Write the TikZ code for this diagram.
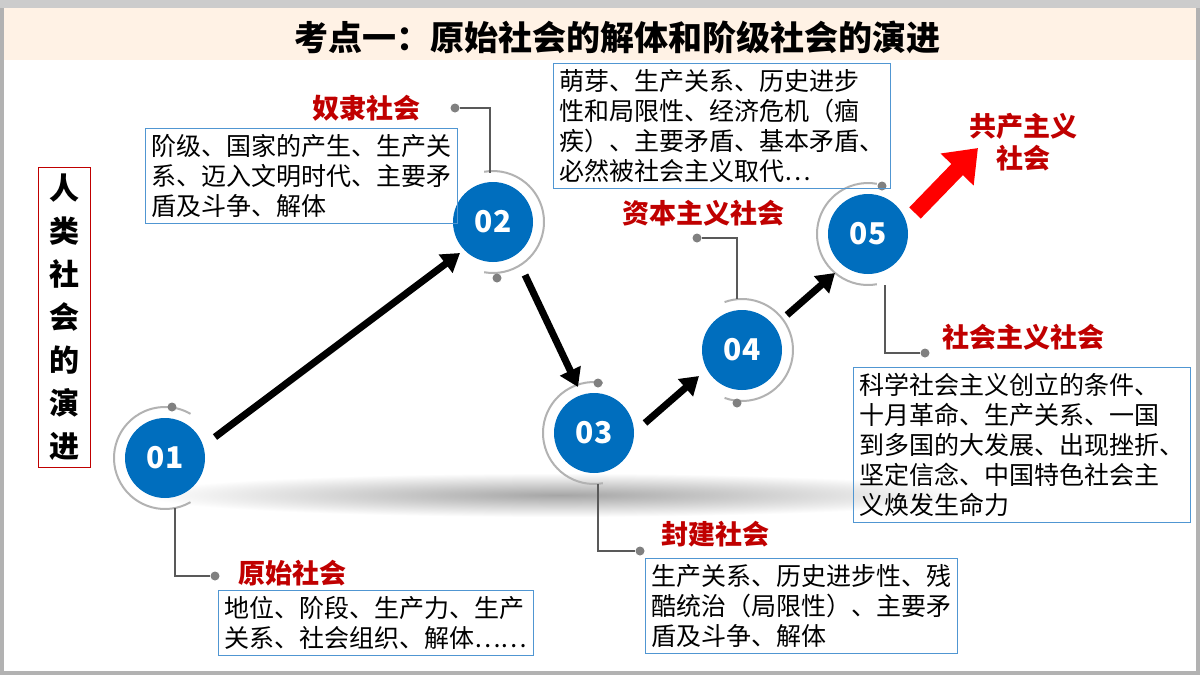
\documentclass[tikz,border=0pt]{standalone}
\usepackage{fontspec}
\setmainfont{Noto Sans CJK SC}
\usetikzlibrary{arrows.meta}
\definecolor{cblue}{RGB}{0,110,190}
\definecolor{cred}{RGB}{192,0,0}
\definecolor{bbord}{RGB}{80,150,210}
\tikzset{
 circ/.style={circle,fill=cblue,minimum size=80pt,text=white,font=\fontsize{30}{30}\selectfont\bfseries},
 ttl/.style={text=cred,font=\fontsize{27}{30}\selectfont\bfseries},
 tbox/.style={draw=bbord,line width=1pt,align=left,inner sep=6pt,font=\fontsize{25}{30}\selectfont,anchor=north west},
 lead/.style={draw=gray!70!black,line width=1.2pt},
 dotc/.style={circle,fill=gray,inner sep=0pt,minimum size=9pt},
 ring/.style={draw=gray!60,line width=2pt},
 arr/.style={line width=7pt,-{Triangle[length=18pt,width=22pt]}}
}
\begin{document}
\begin{tikzpicture}[x=1pt,y=-1pt]
\useasboundingbox (0,0) rectangle (1200,675);
\fill[white] (0,0) rectangle (1200,675);
\draw[gray!60,line width=4pt] (2,2) rectangle (1198,673);
\fill[gray!40] (0,0) rectangle (1200,8);
\fill[orange!10] (4,8) rectangle (1196,60);
\node (title) at (617,37) {\fontsize{34}{34}\selectfont\bfseries 考点一：原始社会的解体和阶级社会的演进};
% shadow band
\shade[inner color=gray!70,outer color=white] (560,495) ellipse (420 and 22);
% left vertical
\node[draw=cred,line width=1pt,minimum width=52pt,minimum height=300pt,align=center,font=\fontsize{30}{43}\selectfont\bfseries] (side) at (64,317) {人\\类\\社\\会\\的\\演\\进};
% circles
\node[circ] (c1) at (165,458) {01};
\node[circ] (c2) at (493,222) {02};
\node[circ] (c3) at (594,433) {03};
\node[circ] (c4) at (742,350) {04};
\node[circ] (c5) at (868,234) {05};
% rings
\draw[ring] (c1) ++(60:51) arc (60:300:51);
\draw[ring] (c2) ++(100:51) arc (100:-100:51);
\draw[ring] (c3) ++(80:51) arc (80:280:51);
\draw[ring] (c4) ++(110:51) arc (110:-110:51);
\draw[ring] (c5) ++(80:51) arc (80:280:51);
% arrows
\coordinate (a1s) at (215,437); \coordinate (a1e) at (460,253);
\draw[arr] (a1s) -- (a1e);
\coordinate (a2s) at (525,275); \coordinate (a2e) at (578,387);
\draw[arr] (a2s) -- (a2e);
\coordinate (a3s) at (645,423); \coordinate (a3e) at (699,376);
\draw[arr] (a3s) -- (a3e);
\coordinate (a4s) at (787,315); \coordinate (a4e) at (835,273);
\draw[arr] (a4s) -- (a4e);
\coordinate (r1) at (915,213); \coordinate (r2) at (978,148);
\draw[red,line width=16pt,-{Triangle[length=30pt,width=44pt]}] (r1) -- (r2);
% dots
\node[dotc] (d1) at (172,407) {};
\node[dotc] (d2) at (497,278) {};
\node[dotc] (d3) at (598,383) {};
\node[dotc] (d4) at (737,403) {};
\node[dotc] (d5) at (882,186) {};
% 原始社会
\node[ttl] (t1) at (292,573) {原始社会};
\node[dotc] (p1) at (215,576) {};
\draw[lead] (175,508) |- (p1);
\node[tbox] (b1) at (218,590) {地位、阶段、生产力、生产\\关系、社会组织、解体……};
% 奴隶社会
\node[ttl] (t2) at (366,108) {奴隶社会};
\node[dotc] (p2) at (455,108) {};
\draw[lead] (p2) -| (490,173);
\node[tbox] (b2) at (145,128) {阶级、国家的产生、生产关\\系、迈入文明时代、主要矛\\盾及斗争、解体};
% 封建社会
\node[ttl] (t3) at (715,534) {封建社会};
\node[dotc] (p3) at (640,551) {};
\draw[lead] (598,484) |- (p3);
\node[tbox] (b3) at (645,558) {生产关系、历史进步性、残\\酷统治（局限性）、主要矛\\盾及斗争、解体};
% 资本主义社会
\node[ttl] (t4) at (703,213) {资本主义社会};
\node[dotc] (p4) at (697,238) {};
\draw[lead] (p4) -| (737,299);
\node[tbox] (b4) at (553,63) {萌芽、生产关系、历史进步\\性和局限性、经济危机（痼\\疾）、主要矛盾、基本矛盾、\\必然被社会主义取代…};
% 社会主义社会
\node[ttl] (t5) at (1023,337) {社会主义社会};
\node[dotc] (p5) at (925,353) {};
\draw[lead] (885,285) |- (p5);
\node[tbox] (b5) at (853,367) {科学社会主义创立的条件、\\十月革命、生产关系、一国\\到多国的大发展、出现挫折、\\坚定信念、中国特色社会主\\义焕发生命力};
% 共产主义社会
\node[ttl,align=center,font=\fontsize{27}{32}\selectfont\bfseries] (t6) at (1023,142) {共产主义\\社会};
\end{tikzpicture}
\end{document}
